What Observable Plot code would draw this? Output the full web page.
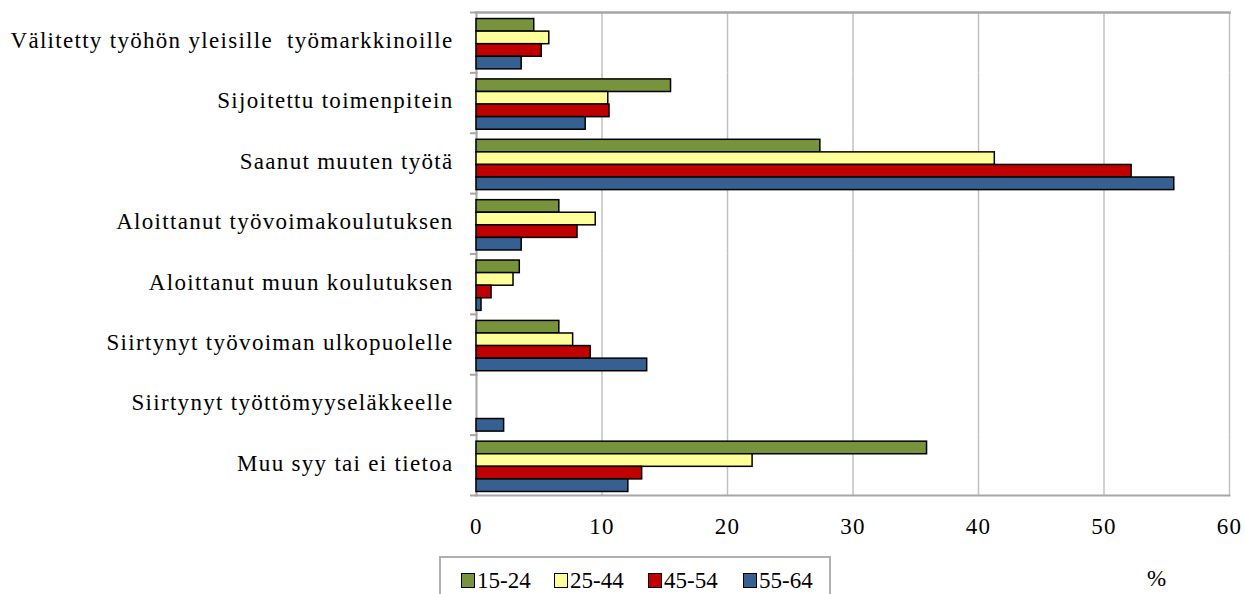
<!DOCTYPE html>
<html>
<head>
<meta charset="utf-8">
<script src="https://cdn.jsdelivr.net/npm/d3@7"></script>
<script src="https://cdn.jsdelivr.net/npm/@observablehq/plot@0.6"></script>
<style>
  html, body { margin: 0; padding: 0; background: #fff; }
  #wrap { position: relative; width: 1245px; height: 594px; overflow: hidden; font-family: "Liberation Serif", "Times New Roman", serif; }
  #legend { position: absolute; left: 439px; top: 556px; width: 392px; height: 60px; border: 2px solid #b0b0b0; box-sizing: border-box; }
  .sw { position: absolute; top: 573px; width: 14px; height: 15px; border: 1.5px solid #000; box-sizing: border-box; }
  .lt { position: absolute; top: 568.5px; font-size: 23px; line-height: 23px; white-space: nowrap; }
  #unit { position: absolute; left: 1147px; top: 566.5px; font-size: 23px; line-height: 23px; }
</style>
</head>
<body>
<div id="wrap">
  <div id="chart"></div>
  <div id="legend"></div>
  <div id="unit"></div>
</div>
<script>
const categories = [
  "Välitetty työhön yleisille  työmarkkinoille",
  "Sijoitettu toimenpitein",
  "Saanut muuten työtä",
  "Aloittanut työvoimakoulutuksen",
  "Aloittanut muun koulutuksen",
  "Siirtynyt työvoiman ulkopuolelle",
  "Siirtynyt työttömyyseläkkeelle",
  "Muu syy tai ei tietoa"
];
const series = ["15-24", "25-44", "45-54", "55-64"];
const colors = ["#77933C", "#FFFF99", "#C00000", "#376092"];
const v1524 = [4.6, 15.5, 27.4, 6.6, 3.45, 6.6, null, 35.9];
const v2544 = [5.8, 10.5, 41.3, 9.5, 2.95, 7.7, null, 22.0];
const v4554 = [5.2, 10.6, 52.2, 8.05, 1.2, 9.1, null, 13.2];
const v5564 = [3.6, 8.7, 55.6, 3.6, 0.4, 13.6, 2.2, 12.1];
const xTicks = [0, 10, 20, 30, 40, 50, 60];
const unitLabel = "%";

const valuesBySeries = [v1524, v2544, v4554, v5564];
const data = [];
categories.forEach((c, i) => {
  series.forEach((s, j) => {
    const v = valuesBySeries[j][i];
    if (v != null) data.push({category: c, group: s, value: v});
  });
});

const W = 1245, H = 560, mT = 12, mB = 65, mL = 476, mR = 16;
const halfStep = (H - mT - mB) / categories.length / 2;
const gridStroke = "#c0c0c0";
const borderStroke = "#a6a6a6";

const chart = Plot.plot({
  width: W, height: H,
  marginTop: mT, marginBottom: mB, marginLeft: mL, marginRight: mR,
  style: {fontFamily: "'Liberation Serif', 'Times New Roman', serif", fontSize: "23px", letterSpacing: "1.3px", color: "#000", background: "#fff", overflow: "visible"},
  x: {domain: [0, 60], label: null},
  y: {domain: series, paddingInner: 0, paddingOuter: 0.4, align: 0.65, round: false, axis: null},
  fy: {domain: categories, padding: 0, round: false, label: null},
  color: {domain: series, range: colors},
  marks: [
    Plot.gridX(xTicks.filter(t => t > 0), {stroke: gridStroke, strokeOpacity: 1, strokeWidth: 1.5}),
    Plot.frame({anchor: "top", facetAnchor: "top", stroke: borderStroke, strokeWidth: 2.5}),
    Plot.frame({anchor: "bottom", facetAnchor: "bottom", stroke: borderStroke, strokeWidth: 2}),
    Plot.frame({anchor: "left", stroke: borderStroke, strokeWidth: 2}),
    Plot.barX(data, {x: "value", y: "group", fy: "category", fill: "group", stroke: "#000", strokeWidth: 1.5}),
    Plot.axisX({ticks: xTicks, tickSize: 0, tickPadding: 22, label: null, fontSize: 23}),
    Plot.axisFy({anchor: "left", tickSize: 0, tickPadding: 23, label: null, fontSize: 23, dy: -2}),
    Plot.axisFy({anchor: "left", tickSize: 6, tickFormat: () => "", label: null, stroke: borderStroke, strokeWidth: 2, dy: -halfStep}),
    Plot.axisFy({anchor: "left", ticks: [categories[categories.length - 1]], tickSize: 6, tickFormat: () => "", label: null, stroke: borderStroke, strokeWidth: 2, dy: halfStep})
  ]
});
document.getElementById("chart").appendChild(chart);

// Legend
const wrap = document.getElementById("wrap");
const swLeft = [461, 554, 648, 743];
series.forEach((s, i) => {
  const sw = document.createElement("div");
  sw.className = "sw";
  sw.style.left = swLeft[i] + "px";
  sw.style.background = colors[i];
  const tx = document.createElement("div");
  tx.className = "lt";
  tx.style.left = (swLeft[i] + 16) + "px";
  tx.textContent = s;
  wrap.appendChild(sw);
  wrap.appendChild(tx);
});
document.getElementById("unit").textContent = unitLabel;
</script>
</body>
</html>
